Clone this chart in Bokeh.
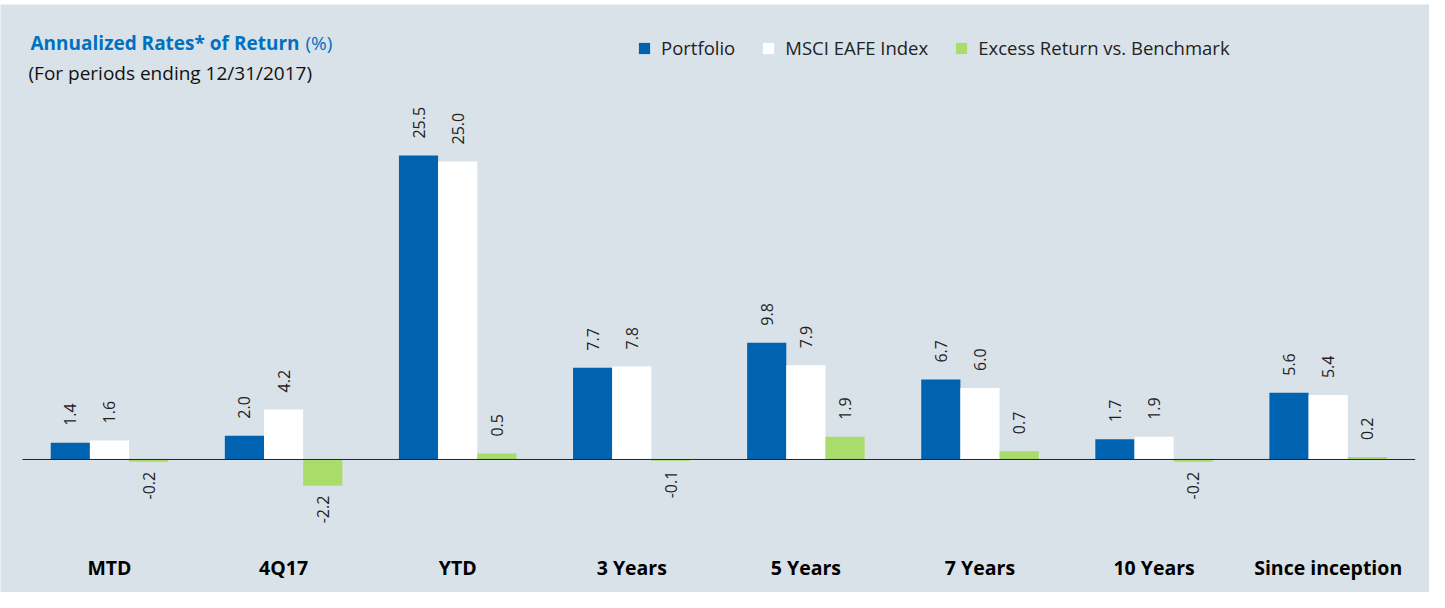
import math
from bokeh.plotting import figure
from bokeh.models import ColumnDataSource, Range1d, LabelSet, Label, Legend, LegendItem
from bokeh.core.properties import value
from bokeh.embed import file_html
from bokeh.resources import INLINE

categories = ["MTD", "4Q17", "YTD", "3 Years", "5 Years", "7 Years", "10 Years", "Since inception"]
portfolio = [1.4, 2.0, 25.5, 7.7, 9.8, 6.7, 1.7, 5.6]
msci = [1.6, 4.2, 25.0, 7.8, 7.9, 6.0, 1.9, 5.4]
excess = [-0.2, -2.2, 0.5, -0.1, 1.9, 0.7, -0.2, 0.2]
series_names = ["Portfolio", "MSCI EAFE Index", "Excess Return vs. Benchmark"]
colors = ["#0063B1", "#FFFFFF", "#A9DC6B"]

BG = "#DAE2E9"
FONT = "Open Sans"
W, H = 1429, 592
BAR_W = 0.225

p = figure(width=W, height=H, output_backend="svg", toolbar_location=None,
           x_range=Range1d(-0.626, 7.582), y_range=Range1d(-11.16, 38.17),
           x_axis_location=None, y_axis_location=None, min_border=0, min_border_top=4,
           background_fill_color=BG, border_fill_color="white", outline_line_color=None)
p.xgrid.visible = False
p.ygrid.visible = False

idx = list(range(len(categories)))
renderers = []
pos_x, pos_y, pos_t = [], [], []
neg_x, neg_y, neg_t = [], [], []
for k, (vals, col) in enumerate(zip([portfolio, msci, excess], colors)):
    off = (k - 1) * BAR_W
    xs = [i + off for i in idx]
    src = ColumnDataSource(dict(x=xs, top=vals))
    r = p.vbar(x="x", top="top", bottom=0, width=BAR_W, source=src,
               fill_color=col, line_color=None)
    renderers.append(r)
    for xv, v in zip(xs, vals):
        if v >= 0:
            pos_x.append(xv); pos_y.append(v); pos_t.append(f"{v:.1f}")
        else:
            neg_x.append(xv); neg_y.append(v); neg_t.append(f"{v:.1f}")

# baseline
p.segment(x0=[-0.5], y0=[0], x1=[len(categories) - 0.5], y1=[0], line_color="#222222", line_width=1)

pos_src = ColumnDataSource(dict(x=pos_x, y=pos_y, t=pos_t))
neg_src = ColumnDataSource(dict(x=neg_x, y=neg_y, t=neg_t))
p.add_layout(LabelSet(x="x", y="y", text="t", source=pos_src, angle=math.pi / 2,
                      text_align="left", text_baseline="middle", y_offset=17,
                      text_font=value(FONT), text_font_size="16px", text_color="#1E1E1E"))
p.add_layout(LabelSet(x="x", y="y", text="t", source=neg_src, angle=math.pi / 2,
                      text_align="right", text_baseline="middle", y_offset=-10,
                      text_font=value(FONT), text_font_size="16px", text_color="#1E1E1E"))

cat_src = ColumnDataSource(dict(x=idx, y=[-9.06] * len(idx), t=categories))
p.text(x="x", y="y", text="t", source=cat_src, text_align="center", text_baseline="middle",
       text_font=value(FONT), text_font_style="bold", text_font_size="19.5px", text_color="#000000")

# title and subtitle
p.add_layout(Label(x=30, y=550, x_units="screen", y_units="screen", text="Annualized Rates* of Return",
                   text_font=FONT, text_font_style="bold", text_font_size="19px",
                   text_color="#0070C0", text_baseline="middle"))
p.add_layout(Label(x=305, y=550, x_units="screen", y_units="screen", text="(%)",
                   text_font=FONT, text_font_size="19px",
                   text_color="#0070C0", text_baseline="middle"))
p.add_layout(Label(x=28, y=520, x_units="screen", y_units="screen", text="(For periods ending 12/31/2017)",
                   text_font=FONT, text_font_size="19px",
                   text_color="#111111", text_baseline="middle"))

legend = Legend(items=[LegendItem(label=n, renderers=[r]) for n, r in zip(series_names, renderers)],
                orientation="horizontal", location=(637, 532), padding=0, margin=0,
                spacing=26, glyph_width=14, glyph_height=14, label_height=14, label_standoff=10,
                label_text_font=FONT, label_text_font_size="18.5px", label_text_color="#222222",
                background_fill_alpha=0, border_line_color=None)
p.add_layout(legend)

open("out.html", "w").write(file_html(p, INLINE))
